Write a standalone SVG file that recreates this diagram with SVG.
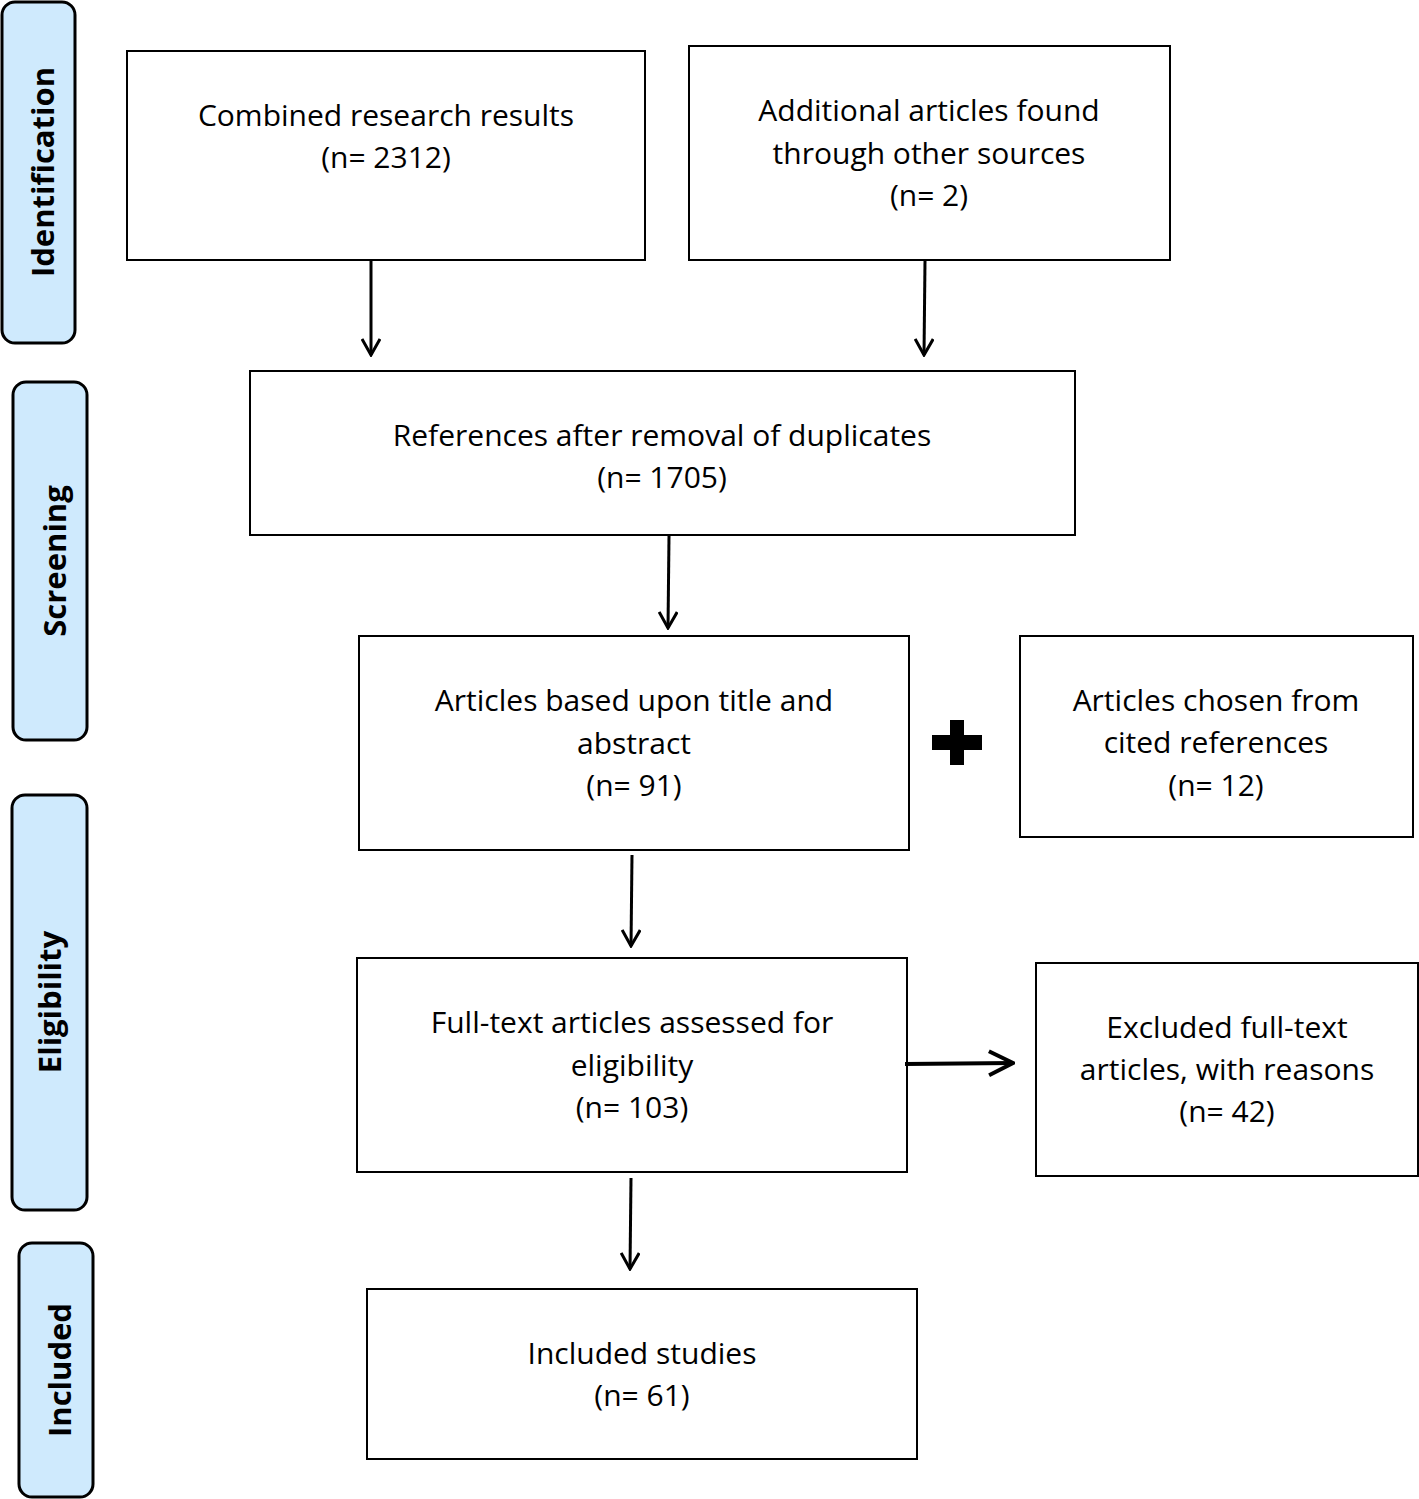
<svg xmlns="http://www.w3.org/2000/svg" width="1419" height="1499" viewBox="0 0 1419 1499">
<style>
.phase{fill:#cfeafd;stroke:#000;stroke-width:3}
.box{fill:#fff;stroke:#000;stroke-width:2}
.t{font-family:"Open Sans","Noto Sans",sans-serif;font-size:30px;text-anchor:middle;fill:#000}
.pt{font-family:"Open Sans","Noto Sans",sans-serif;font-size:31px;font-weight:bold;text-anchor:middle;fill:#000}
.c{stroke:#000;stroke-width:3;fill:none}
</style>
<defs>
<marker id="ah" viewBox="0 0 20 20" refX="18" refY="10" markerWidth="20" markerHeight="20" markerUnits="userSpaceOnUse" orient="auto">
<path d="M2,1 L18,10 L2,19" fill="none" stroke="#000" stroke-width="3"/>
</marker>
<marker id="ah2" viewBox="0 0 28 28" refX="26" refY="14" markerWidth="28" markerHeight="28" markerUnits="userSpaceOnUse" orient="auto">
<path d="M2,2 L26,14 L2,26" fill="none" stroke="#000" stroke-width="4"/>
</marker>
</defs>
<g id="phase-identification"><rect class="phase" x="2" y="2" width="73" height="341" rx="13"/><text class="pt" transform="translate(54,172) rotate(-90)">Identification</text></g>
<g id="phase-screening"><rect class="phase" x="13" y="382" width="74" height="358" rx="13"/><text class="pt" transform="translate(66,561) rotate(-90)">Screening</text></g>
<g id="phase-eligibility"><rect class="phase" x="12" y="795" width="75" height="415" rx="13"/><text class="pt" transform="translate(61,1002) rotate(-90)">Eligibility</text></g>
<g id="phase-included"><rect class="phase" x="19" y="1243" width="74" height="254" rx="13"/><text class="pt" transform="translate(71,1370) rotate(-90)">Included</text></g>

<g id="n1"><rect class="box" x="127" y="51" width="518" height="209"/><text class="t" x="386" y="126">Combined research results</text><text class="t" x="386" y="168">(n= 2312)</text></g>
<g id="n2"><rect class="box" x="689" y="46" width="481" height="214"/><text class="t" x="929" y="121">Additional articles found</text><text class="t" x="929" y="164">through other sources</text><text class="t" x="929" y="206">(n= 2)</text></g>
<g id="n3"><rect class="box" x="250" y="371" width="825" height="164"/><text class="t" x="662" y="446">References after removal of duplicates</text><text class="t" x="662" y="488">(n= 1705)</text></g>
<g id="n4"><rect class="box" x="359" y="636" width="550" height="214"/><text class="t" x="634" y="711">Articles based upon title and</text><text class="t" x="634" y="754">abstract</text><text class="t" x="634" y="796">(n= 91)</text></g>
<g id="n5"><rect class="box" x="1020" y="636" width="393" height="201"/><text class="t" x="1216" y="711">Articles chosen from</text><text class="t" x="1216" y="753">cited references</text><text class="t" x="1216" y="796">(n= 12)</text></g>
<g id="n6"><rect class="box" x="357" y="958" width="550" height="214"/><text class="t" x="632" y="1033">Full-text articles assessed for</text><text class="t" x="632" y="1076">eligibility</text><text class="t" x="632" y="1118">(n= 103)</text></g>
<g id="n7"><rect class="box" x="1036" y="963" width="382" height="213"/><text class="t" x="1227" y="1038">Excluded full-text</text><text class="t" x="1227" y="1080">articles, with reasons</text><text class="t" x="1227" y="1122">(n= 42)</text></g>
<g id="n8"><rect class="box" x="367" y="1289" width="550" height="170"/><text class="t" x="642" y="1364">Included studies</text><text class="t" x="642" y="1406">(n= 61)</text></g>
<g id="plus"><rect x="950" y="720" width="14" height="45" fill="#000"/><rect x="932" y="735" width="50" height="15" fill="#000"/></g>

<g id="connectors">
<line class="c" x1="371" y1="261" x2="371" y2="355" marker-end="url(#ah)"/>
<line class="c" x1="925" y1="261" x2="924" y2="355" marker-end="url(#ah)"/>
<line class="c" x1="669" y1="536" x2="668" y2="628" marker-end="url(#ah)"/>
<line class="c" x1="632" y1="855" x2="631" y2="946" marker-end="url(#ah)"/>
<line class="c" x1="631" y1="1178" x2="630" y2="1269" marker-end="url(#ah)"/>
<line class="c" style="stroke-width:4" x1="905" y1="1064" x2="1013" y2="1063" marker-end="url(#ah2)"/>
</g>
</svg>
